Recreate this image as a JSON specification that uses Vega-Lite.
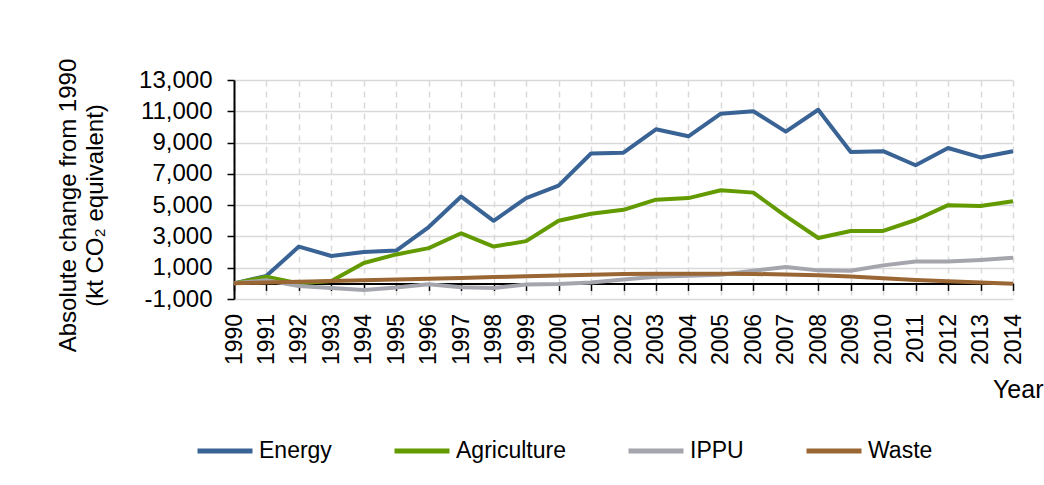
{
  "$schema": "https://vega.github.io/schema/vega-lite/v6.json",
  "autosize": "none",
  "width": 779,
  "height": 219,
  "padding": {"left": 234, "top": 80, "right": 31, "bottom": 186},
  "background": "white",
  "config": {
    "font": "Liberation Sans",
    "view": {"stroke": null},
    "axis": {"labelFont": "Liberation Sans", "titleFont": "Liberation Sans", "labelColor": "black", "titleColor": "black", "titleFontWeight": "normal"}
  },
  "data": {
    "values": [
      {"year": 1990, "sector": "Energy", "value": 0},
      {"year": 1991, "sector": "Energy", "value": 480},
      {"year": 1992, "sector": "Energy", "value": 2350},
      {"year": 1993, "sector": "Energy", "value": 1750},
      {"year": 1994, "sector": "Energy", "value": 2000},
      {"year": 1995, "sector": "Energy", "value": 2100},
      {"year": 1996, "sector": "Energy", "value": 3600},
      {"year": 1997, "sector": "Energy", "value": 5550},
      {"year": 1998, "sector": "Energy", "value": 4000},
      {"year": 1999, "sector": "Energy", "value": 5450},
      {"year": 2000, "sector": "Energy", "value": 6250},
      {"year": 2001, "sector": "Energy", "value": 8300},
      {"year": 2002, "sector": "Energy", "value": 8350},
      {"year": 2003, "sector": "Energy", "value": 9850},
      {"year": 2004, "sector": "Energy", "value": 9400},
      {"year": 2005, "sector": "Energy", "value": 10850},
      {"year": 2006, "sector": "Energy", "value": 11000},
      {"year": 2007, "sector": "Energy", "value": 9700},
      {"year": 2008, "sector": "Energy", "value": 11100},
      {"year": 2009, "sector": "Energy", "value": 8400},
      {"year": 2010, "sector": "Energy", "value": 8450},
      {"year": 2011, "sector": "Energy", "value": 7550},
      {"year": 2012, "sector": "Energy", "value": 8650},
      {"year": 2013, "sector": "Energy", "value": 8050},
      {"year": 2014, "sector": "Energy", "value": 8450},
      {"year": 1990, "sector": "Agriculture", "value": 0},
      {"year": 1991, "sector": "Agriculture", "value": 420},
      {"year": 1992, "sector": "Agriculture", "value": 0},
      {"year": 1993, "sector": "Agriculture", "value": 150},
      {"year": 1994, "sector": "Agriculture", "value": 1300},
      {"year": 1995, "sector": "Agriculture", "value": 1850},
      {"year": 1996, "sector": "Agriculture", "value": 2250},
      {"year": 1997, "sector": "Agriculture", "value": 3200},
      {"year": 1998, "sector": "Agriculture", "value": 2350},
      {"year": 1999, "sector": "Agriculture", "value": 2700},
      {"year": 2000, "sector": "Agriculture", "value": 4000},
      {"year": 2001, "sector": "Agriculture", "value": 4450},
      {"year": 2002, "sector": "Agriculture", "value": 4700},
      {"year": 2003, "sector": "Agriculture", "value": 5350},
      {"year": 2004, "sector": "Agriculture", "value": 5450},
      {"year": 2005, "sector": "Agriculture", "value": 5950},
      {"year": 2006, "sector": "Agriculture", "value": 5800},
      {"year": 2007, "sector": "Agriculture", "value": 4300},
      {"year": 2008, "sector": "Agriculture", "value": 2900},
      {"year": 2009, "sector": "Agriculture", "value": 3350},
      {"year": 2010, "sector": "Agriculture", "value": 3350},
      {"year": 2011, "sector": "Agriculture", "value": 4050},
      {"year": 2012, "sector": "Agriculture", "value": 5000},
      {"year": 2013, "sector": "Agriculture", "value": 4950},
      {"year": 2014, "sector": "Agriculture", "value": 5250},
      {"year": 1990, "sector": "IPPU", "value": 0},
      {"year": 1991, "sector": "IPPU", "value": 200},
      {"year": 1992, "sector": "IPPU", "value": -170},
      {"year": 1993, "sector": "IPPU", "value": -290},
      {"year": 1994, "sector": "IPPU", "value": -420},
      {"year": 1995, "sector": "IPPU", "value": -270},
      {"year": 1996, "sector": "IPPU", "value": -60},
      {"year": 1997, "sector": "IPPU", "value": -250},
      {"year": 1998, "sector": "IPPU", "value": -300},
      {"year": 1999, "sector": "IPPU", "value": -80},
      {"year": 2000, "sector": "IPPU", "value": -40},
      {"year": 2001, "sector": "IPPU", "value": 50},
      {"year": 2002, "sector": "IPPU", "value": 250},
      {"year": 2003, "sector": "IPPU", "value": 420},
      {"year": 2004, "sector": "IPPU", "value": 480},
      {"year": 2005, "sector": "IPPU", "value": 550},
      {"year": 2006, "sector": "IPPU", "value": 800},
      {"year": 2007, "sector": "IPPU", "value": 1040},
      {"year": 2008, "sector": "IPPU", "value": 830},
      {"year": 2009, "sector": "IPPU", "value": 800},
      {"year": 2010, "sector": "IPPU", "value": 1150},
      {"year": 2011, "sector": "IPPU", "value": 1400},
      {"year": 2012, "sector": "IPPU", "value": 1400},
      {"year": 2013, "sector": "IPPU", "value": 1500},
      {"year": 2014, "sector": "IPPU", "value": 1630},
      {"year": 1990, "sector": "Waste", "value": 0},
      {"year": 1991, "sector": "Waste", "value": 50},
      {"year": 1992, "sector": "Waste", "value": 100},
      {"year": 1993, "sector": "Waste", "value": 150},
      {"year": 1994, "sector": "Waste", "value": 200},
      {"year": 1995, "sector": "Waste", "value": 250},
      {"year": 1996, "sector": "Waste", "value": 300},
      {"year": 1997, "sector": "Waste", "value": 350},
      {"year": 1998, "sector": "Waste", "value": 400},
      {"year": 1999, "sector": "Waste", "value": 450},
      {"year": 2000, "sector": "Waste", "value": 500},
      {"year": 2001, "sector": "Waste", "value": 550},
      {"year": 2002, "sector": "Waste", "value": 600},
      {"year": 2003, "sector": "Waste", "value": 620},
      {"year": 2004, "sector": "Waste", "value": 620},
      {"year": 2005, "sector": "Waste", "value": 620},
      {"year": 2006, "sector": "Waste", "value": 600},
      {"year": 2007, "sector": "Waste", "value": 570},
      {"year": 2008, "sector": "Waste", "value": 520},
      {"year": 2009, "sector": "Waste", "value": 440},
      {"year": 2010, "sector": "Waste", "value": 330},
      {"year": 2011, "sector": "Waste", "value": 220},
      {"year": 2012, "sector": "Waste", "value": 130},
      {"year": 2013, "sector": "Waste", "value": 50},
      {"year": 2014, "sector": "Waste", "value": -20}
    ]
  },
  "mark": {"type": "line", "strokeWidth": 4, "strokeJoin": "round", "strokeCap": "butt"},
  "encoding": {
    "x": {
      "field": "year",
      "type": "quantitative",
      "scale": {"domain": [1990, 2014], "nice": false, "zero": false},
      "axis": {
        "values": [1990,1991,1992,1993,1994,1995,1996,1997,1998,1999,2000,2001,2002,2003,2004,2005,2006,2007,2008,2009,2010,2011,2012,2013,2014],
        "format": "d",
        "offset": -15.6,
        "labelAngle": -90,
        "labelAlign": "right",
        "labelBaseline": "middle",
        "labelFontSize": 23,
        "labelPadding": 23,
        "labelFlush": false,
        "labelOverlap": false,
        "tickSize": 7,
        "tickColor": "black",
        "tickWidth": 1.5,
        "domainColor": "black",
        "domainWidth": 2,
        "grid": true,
        "gridColor": "#d9d9d9",
        "gridWidth": 1.5,
        "gridDash": [6, 5],
        "title": "Year",
        "titleFontSize": 25,
        "titleAlign": "right",
        "titleAnchor": "end",
        "titleBaseline": "alphabetic",
        "titleX": 809,
        "titleY": 114
      }
    },
    "y": {
      "field": "value",
      "type": "quantitative",
      "scale": {"domain": [-1000, 13000], "nice": false},
      "axis": {
        "values": [-1000, 1000, 3000, 5000, 7000, 9000, 11000, 13000],
        "labelExpr": "replace(format(datum.value, ','), '\u2212', '-')",
        "labelFontSize": 24,
        "labelPadding": 15,
        "tickSize": 7,
        "tickColor": "black",
        "tickWidth": 1.5,
        "domainColor": "black",
        "domainWidth": 2,
        "grid": true,
        "gridColor": "#d9d9d9",
        "gridWidth": 1.5,
        "title": ["Absolute change from 1990", "(kt CO\u2082 equivalent)"],
        "titleFontSize": 24,
        "titleLineHeight": 27,
        "titleAngle": -90,
        "titleAlign": "center",
        "titleBaseline": "alphabetic",
        "titleX": -159,
        "titleY": 125
      }
    },
    "color": {
      "field": "sector",
      "type": "nominal",
      "scale": {
        "domain": ["Energy", "Agriculture", "IPPU", "Waste"],
        "range": ["#3a6395", "#639a00", "#a5a6ad", "#9a6634"]
      },
      "legend": {
        "title": null,
        "orient": "none",
        "direction": "horizontal",
        "legendX": -39,
        "legendY": 341,
        "padding": 0,
        "symbolType": "stroke",
        "symbolSize": 3025,
        "symbolStrokeWidth": 5,
        "labelFontSize": 23,
        "labelFont": "Liberation Sans",
        "labelColor": "black",
        "labelOffset": 4,
        "columnPadding": 52
      }
    }
  }
}
